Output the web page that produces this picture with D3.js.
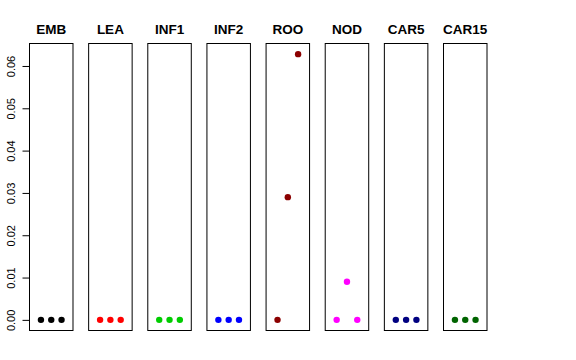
<!DOCTYPE html>
<html>
<head>
<meta charset="utf-8">
<script src="https://cdn.jsdelivr.net/npm/d3@7"></script>
<style>
  body { margin: 0; background: #fff; }
  svg { display: block; font-family: "Liberation Sans", Arial, Helvetica, sans-serif; }
</style>
</head>
<body>
<div id="chart"></div>
<script>
// tissues, one panel each
const tissues = ["EMB", "LEA", "INF1", "INF2", "ROO", "NOD", "CAR5", "CAR15"];
// three values per tissue (points 1..3)
const values = [
  [0, 0, 0],
  [0, 0, 0],
  [0, 0, 0],
  [0, 0, 0],
  [0, 0.029, 0.0628],
  [0, 0.009, 0],
  [0, 0, 0],
  [0, 0, 0]
];
const colors = ["#000000", "#FF0000", "#00CD00", "#0000FF", "#8B0000", "#FF00FF", "#000080", "#006400"];
const yTicks = [0, 0.01, 0.02, 0.03, 0.04, 0.05, 0.06];

const width = 576, height = 360;
const plotTop = 43.5, plotBottom = 330.5;

const svg = d3.select("#chart")
  .append("svg")
  .attr("width", width)
  .attr("height", height);

// panel positions
const panel = d3.scaleBand()
  .domain(tissues)
  .range([29, 487.5])
  .paddingInner(0.2477)
  .paddingOuter(0);

// shared y scale, padded 4% like R
const yMax = d3.max(values.flat());
const pad = yMax * 0.04;
const y = d3.scaleLinear()
  .domain([-pad, yMax + pad])
  .range([plotBottom, plotTop]);

// x within each panel: positions 1..3
const x = d3.scaleLinear()
  .domain([-0.16, 4.16])
  .range([0, panel.bandwidth()]);

tissues.forEach((t, i) => {
  const g = svg.append("g")
    .attr("transform", `translate(${panel(t)},0)`);

  g.append("rect")
    .attr("x", 0.5)
    .attr("y", plotTop)
    .attr("width", panel.bandwidth() - 1)
    .attr("height", plotBottom - plotTop)
    .attr("fill", "none")
    .attr("stroke", "#000")
    .attr("stroke-width", 1);

  g.append("text")
    .attr("x", panel.bandwidth() / 2)
    .attr("y", 34)
    .attr("text-anchor", "middle")
    .attr("font-weight", "bold")
    .attr("font-size", "13.5px")
    .text(t);

  g.selectAll("circle")
    .data(values[i])
    .join("circle")
    .attr("cx", (d, j) => x(j + 1))
    .attr("cy", d => y(d))
    .attr("r", 3.2)
    .attr("fill", colors[i]);
});

// y axis on the first panel
const axis = svg.append("g")
  .attr("transform", `translate(${panel(tissues[0]) + 0.5},0)`)
  .call(d3.axisLeft(y).tickValues(yTicks).tickSize(7).tickPadding(6).tickFormat(d3.format(".2f")));
axis.select(".domain").remove();
axis.selectAll(".tick line").attr("stroke", "#000");
axis.selectAll(".tick text")
  .attr("font-family", "Liberation Sans, Arial, sans-serif")
  .attr("font-size", "11px")
  .attr("fill", "#000")
  .attr("text-anchor", "middle")
  .attr("transform", "rotate(-90)")
  .attr("x", 0)
  .attr("y", -15)
  .attr("dy", "0");
</script>
</body>
</html>
